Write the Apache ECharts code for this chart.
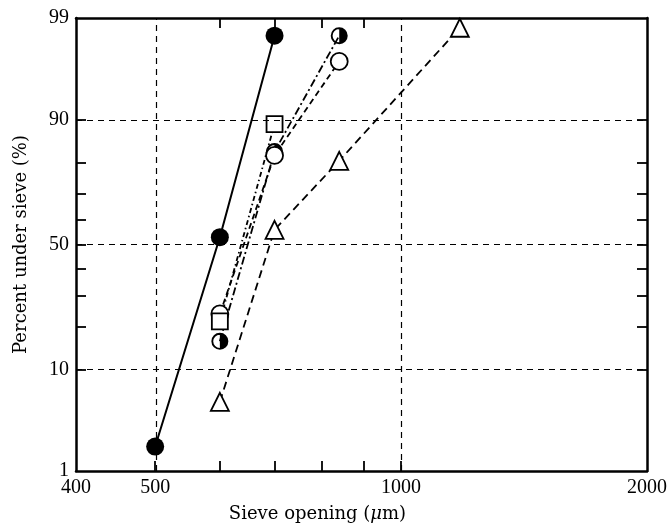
<!DOCTYPE html>
<html>
<head>
<meta charset="utf-8">
<script src="https://cdn.jsdelivr.net/npm/echarts@6/dist/echarts.min.js"></script>
<style>
html, body { margin: 0; padding: 0; background: #fff; }
#chart { width: 668px; height: 524px; }
</style>
</head>
<body>
<div id="chart"></div>
<script>
// axis values
var sizeLabels = [400, 500, 1000, 2000];
var sizeTicks = [500, 600, 700, 800, 900, 1000];
var sizeGrid = [500, 1000];
var pctLabels = [1, 10, 50, 90, 99];
var pctTicks = [10, 20, 30, 40, 50, 60, 70, 80, 90];
var pctGrid = [10, 50, 90];

// series (sieve opening um, percent under sieve)
var filledX = [500, 600, 700];
var filledY = [1.9, 53, 98.4];
var halfX = [600, 700, 840];
var halfY = [16, 83, 98.4];
var openX = [600, 700, 840];
var openY = [23.8, 82, 97];
var squareX = [600, 700];
var squareY = [21.5, 89.2];
var triX = [600, 700, 840, 1180];
var triY = [5.3, 56, 80.5, 98.7];

// inverse normal cdf (probability paper)
function probit(p) {
  var a = [-3.969683028665376e+01, 2.209460984245205e+02, -2.759285104469687e+02, 1.383577518672690e+02, -3.066479806614716e+01, 2.506628277459239e+00];
  var b = [-5.447609879822406e+01, 1.615858368580409e+02, -1.556989798598866e+02, 6.680131188771972e+01, -1.328068155288572e+01];
  var c = [-7.784894002430293e-03, -3.223964580411365e-01, -2.400758277161838e+00, -2.549732539343734e+00, 4.374664141464968e+00, 2.938163982698783e+00];
  var d = [7.784695709041462e-03, 3.224671290700398e-01, 2.445134137142996e+00, 3.754408661907416e+00];
  var pl = 0.02425, q, r;
  if (p < pl) {
    q = Math.sqrt(-2 * Math.log(p));
    return (((((c[0]*q+c[1])*q+c[2])*q+c[3])*q+c[4])*q+c[5]) / ((((d[0]*q+d[1])*q+d[2])*q+d[3])*q+1);
  }
  if (p > 1 - pl) {
    q = Math.sqrt(-2 * Math.log(1 - p));
    return -(((((c[0]*q+c[1])*q+c[2])*q+c[3])*q+c[4])*q+c[5]) / ((((d[0]*q+d[1])*q+d[2])*q+d[3])*q+1);
  }
  q = p - 0.5; r = q * q;
  return (((((a[0]*r+a[1])*r+a[2])*r+a[3])*r+a[4])*r+a[5])*q / (((((b[0]*r+b[1])*r+b[2])*r+b[3])*r+b[4])*r+1);
}
function pz(pct) { return probit(pct / 100); }
function lg(v) { return Math.log10(v); }

function pairs(xs, ys) {
  return xs.map(function (x, i) { return [lg(x), pz(ys[i])]; });
}

var serif = 'Liberation Serif';
var X_MIN = lg(400), X_MAX = lg(2000);
var Y_MIN = pz(1), Y_MAX = pz(99);

var halfCircle = 'path://M50,0A50,50 0 0 1 50,100Z M50,0A50,50 0 0 0 50,100L50,89A39,39 0 0 1 50,11Z';

function frameAxis(extra) {
  var base = {
    type: 'value',
    axisLine: { show: true, onZero: false, lineStyle: { color: '#000', width: 2.5 } },
    axisTick: { show: true, inside: true, length: 10, lineStyle: { color: '#000', width: 1.8 } },
    axisLabel: { show: false },
    splitLine: { show: false }
  };
  return Object.assign(base, extra);
}

var chart = echarts.init(document.getElementById('chart'));

chart.setOption({
  animation: false,
  grid: { left: 76, right: 21, top: 18, bottom: 53, outerBoundsMode: 'none', containLabel: false },
  xAxis: [
    frameAxis({
      position: 'bottom', min: X_MIN, max: X_MAX,
      axisTick: { show: true, inside: true, length: 10, customValues: sizeTicks.map(lg), lineStyle: { color: '#000', width: 1.8 } },
      axisLabel: {
        show: true, customValues: sizeLabels.map(lg), margin: 7,
        color: '#000', fontFamily: serif, fontSize: 20,
        formatter: function (v) { return String(Math.round(Math.pow(10, v))); }
      },
      name: 'Sieve opening ({i|μ}m)',
      nameLocation: 'middle',
      nameGap: 34,
      nameTextStyle: {
        color: '#000', fontFamily: 'DejaVu Serif', fontSize: 18, padding: [0, 88, 0, 0],
        rich: { i: { fontStyle: 'italic', fontFamily: 'DejaVu Serif', fontSize: 18, color: '#000' } }
      }
    }),
    frameAxis({
      position: 'top', min: X_MIN, max: X_MAX,
      axisTick: { show: true, inside: true, length: 10, customValues: [600, 700, 800, 900].map(lg), lineStyle: { color: '#000', width: 1.8 } }
    })
  ],
  yAxis: [
    frameAxis({
      position: 'left', min: Y_MIN, max: Y_MAX,
      axisTick: { show: true, inside: true, length: 10, customValues: pctTicks.map(pz), lineStyle: { color: '#000', width: 1.8 } },
      axisLabel: {
        show: true, customValues: pctLabels.map(pz), margin: 7,
        color: '#000', fontFamily: serif, fontSize: 20,
        formatter: function (v) {
          for (var i = 0; i < pctLabels.length; i++) {
            if (Math.abs(pz(pctLabels[i]) - v) < 1e-6) return String(pctLabels[i]);
          }
          return '';
        }
      },
      name: 'Percent under sieve (%)',
      nameLocation: 'middle',
      nameGap: 46,
      nameTextStyle: { color: '#000', fontFamily: 'DejaVu Serif', fontSize: 18 }
    }),
    frameAxis({
      position: 'right', min: Y_MIN, max: Y_MAX,
      axisTick: { show: true, inside: true, length: 10, customValues: pctTicks.map(pz), lineStyle: { color: '#000', width: 1.8 } }
    })
  ],
  series: [
    {
      type: 'line', name: 'grid', data: [], silent: true,
      markLine: {
        silent: true, symbol: 'none', animation: false,
        label: { show: false },
        lineStyle: { color: '#000', width: 1.2, type: [6, 5] },
        data: sizeGrid.map(function (v) { return { xAxis: lg(v) }; })
          .concat(pctGrid.map(function (p) { return { yAxis: pz(p) }; }))
      }
    },
    {
      type: 'line', name: 'triangle', data: pairs(triX, triY),
      symbol: 'triangle', symbolSize: 18,
      lineStyle: { color: '#000', width: 1.8, type: [8, 5] },
      itemStyle: { color: '#fff', borderColor: '#000', borderWidth: 1.8 }
    },
    {
      type: 'line', name: 'half', data: pairs(halfX, halfY),
      symbol: halfCircle, symbolSize: 17,
      lineStyle: { color: '#000', width: 1.8, type: [8, 3, 2, 3] },
      itemStyle: { color: '#000' }
    },
    {
      type: 'line', name: 'open', data: pairs(openX, openY),
      symbol: 'circle', symbolSize: 17,
      lineStyle: { color: '#000', width: 1.8, type: [6, 4] },
      itemStyle: { color: '#fff', borderColor: '#000', borderWidth: 1.8 }
    },
    {
      type: 'line', name: 'square', data: pairs(squareX, squareY),
      symbol: 'rect', symbolSize: 16,
      lineStyle: { color: '#000', width: 1.8, type: [5, 3, 1.5, 3] },
      itemStyle: { color: '#fff', borderColor: '#000', borderWidth: 1.8 }
    },
    {
      type: 'line', name: 'filled', data: pairs(filledX, filledY),
      symbol: 'circle', symbolSize: 18,
      lineStyle: { color: '#000', width: 2 },
      itemStyle: { color: '#000' }
    }
  ]
});
</script>
</body>
</html>
